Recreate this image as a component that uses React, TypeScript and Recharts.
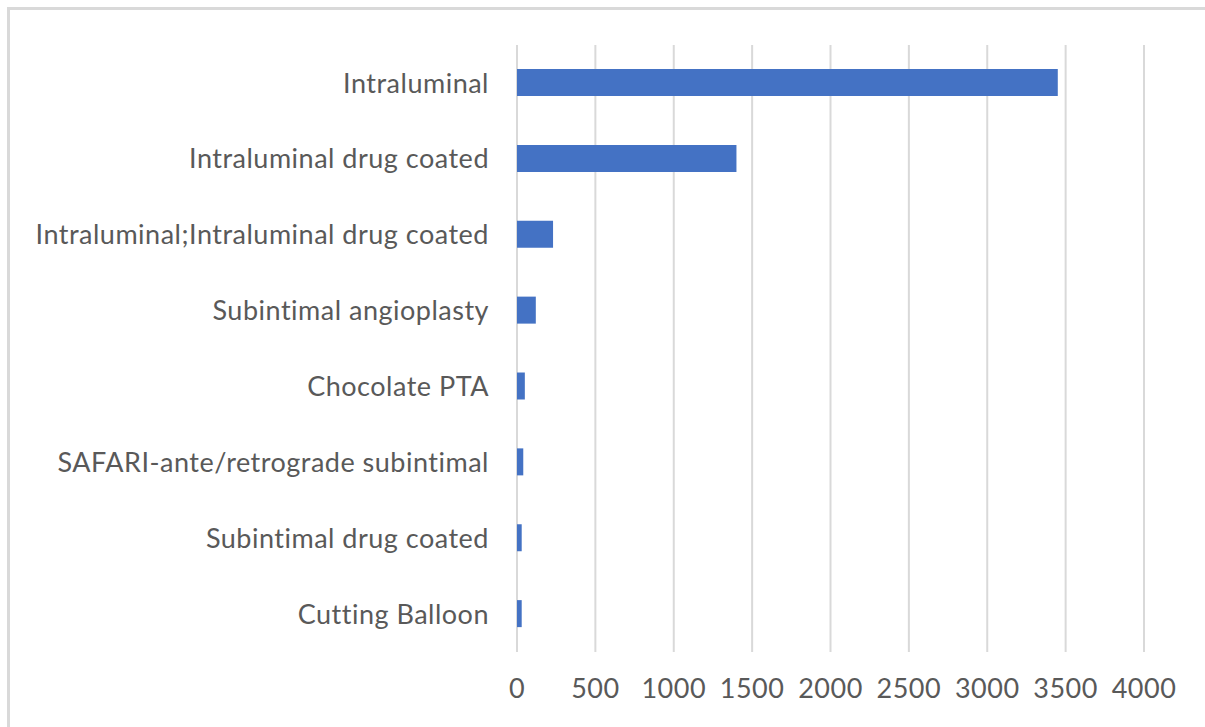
import React from "react";
import { BarChart, Bar, XAxis, YAxis, CartesianGrid } from "recharts";

// Procedure types and their counts
const procedures = [
  "Intraluminal",
  "Intraluminal drug coated",
  "Intraluminal;Intraluminal drug coated",
  "Subintimal angioplasty",
  "Chocolate PTA",
  "SAFARI-ante/retrograde subintimal",
  "Subintimal drug coated",
  "Cutting Balloon",
];
const counts = [3450, 1400, 230, 120, 50, 40, 30, 30];
const xTicks = [0, 500, 1000, 1500, 2000, 2500, 3000, 3500, 4000];

const data = procedures.map((name, i) => ({ name, count: counts[i] }));

const FONT = "Lato, 'Open Sans', sans-serif";
const TEXT_COLOR = "#595959";
const GRID_COLOR = "#d9d9d9";
const BAR_COLOR = "#4472C4";

const tickStyle = {
  fill: TEXT_COLOR,
  fontSize: 27,
  fontFamily: FONT,
  letterSpacing: 0.5,
};

export default function App() {
  return (
    <div
      style={{
        position: "absolute",
        left: 0,
        top: 0,
        width: 1205,
        height: 727,
        background: "#ffffff",
        overflow: "hidden",
      }}
    >
      {/* chart frame, open at right and bottom edges */}
      <div
        style={{
          position: "absolute",
          left: 7,
          top: 7,
          width: 1300,
          height: 800,
          borderTop: `3px solid ${GRID_COLOR}`,
          borderLeft: `3px solid ${GRID_COLOR}`,
          boxSizing: "border-box",
        }}
      />
      <div style={{ position: "absolute", left: 0, top: 0 }}>
        <BarChart
          width={1205}
          height={727}
          data={data}
          layout="vertical"
          margin={{ top: 45, right: 61, bottom: 0, left: 0 }}
          barSize={27}
        >
          <CartesianGrid
            horizontal={false}
            vertical={true}
            stroke={GRID_COLOR}
            strokeWidth={2}
          />
          <XAxis
            type="number"
            domain={[0, 4000]}
            ticks={xTicks}
            axisLine={false}
            tickLine={false}
            height={75}
            tickMargin={21}
            tick={tickStyle}
            interval={0}
          />
          <YAxis
            type="category"
            dataKey="name"
            width={517}
            axisLine={false}
            tickLine={false}
            tickMargin={22}
            tick={tickStyle}
            interval={0}
          />
          <Bar dataKey="count" fill={BAR_COLOR} isAnimationActive={false} />
        </BarChart>
      </div>
    </div>
  );
}
